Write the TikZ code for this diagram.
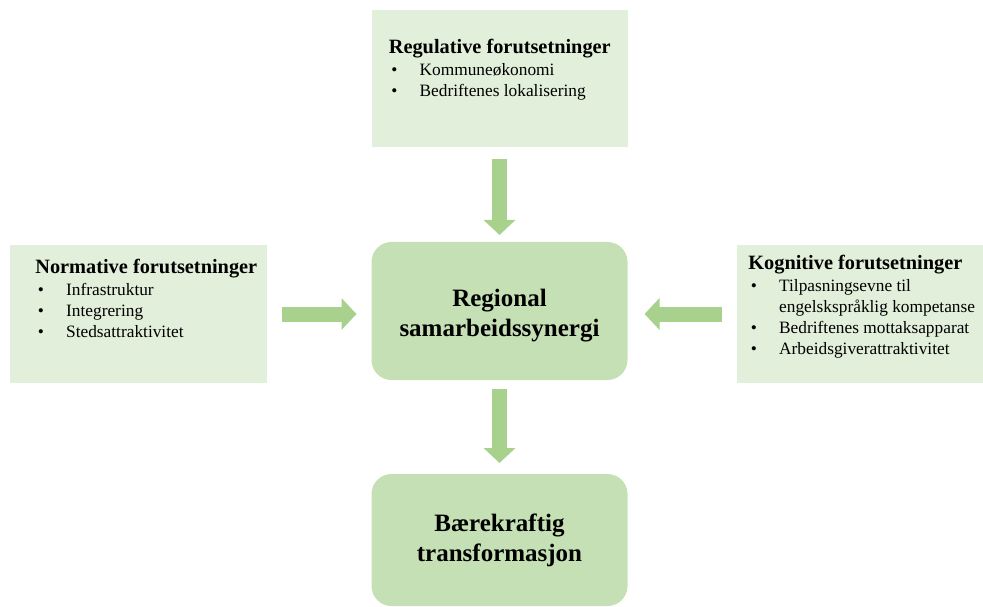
\documentclass[tikz,border=0pt]{standalone}
\usepackage{fontspec}
\setmainfont{Liberation Serif}
\usetikzlibrary{positioning, arrows.meta}
\definecolor{boxlight}{HTML}{E2EFDA}
\definecolor{boxmid}{HTML}{C5E0B4}
\definecolor{arrgreen}{HTML}{A9D18E}
\newcommand{\hd}[1]{{\fontsize{12.2}{12.6}\selectfont\bfseries #1}}
\newcommand{\bul}[1]{\hspace*{1.5pt}\makebox[17pt][l]{\textbullet}#1}

\begin{document}
\begin{tikzpicture}[
  x=0.6pt, y=-0.6pt,
  factor/.style={fill=boxlight, inner sep=0pt, outer sep=0pt, minimum height=82.8pt},
  core/.style={fill=boxmid, rounded corners=12pt, inner sep=0pt, outer sep=0pt, minimum width=153.6pt, minimum height=82.8pt, align=center, font=\fontsize{15}{18}\selectfont\bfseries},
  itemtext/.style={inner sep=0pt, align=left, font=\fontsize{10.4}{12.6}\selectfont},
  blockarr/.style={-{Triangle[width=18.6pt, length=9pt]}, line width=9pt, draw=arrgreen}
]
\useasboundingbox (0,0) rectangle (983,607);

\node[core] (synergi) at (499.5,311) {\rule{0pt}{16.5pt}Regional\\samarbeidssynergi};
\node[core, minimum height=79.2pt] (baerekraft) at (499.5,540) {Bærekraftig\\transformasjon};

\node[factor, minimum width=153.6pt, minimum height=82.2pt] (regulativ) at (499.5,78.5) {};
\node[factor, minimum width=154.2pt] (normativ) at (138.5,314) {};
\node[factor, minimum width=147.6pt] (kognitiv) at (860,314) {};

\node[itemtext, below right=17.6pt and 10.2pt of regulativ.north west] (regtxt)
  {\hd{Regulative forutsetninger}\\[0.6pt]
   \bul{Kommuneøkonomi}\\
   \bul{Bedriftenes lokalisering}};
\node[itemtext, below right=8.4pt and 15pt of normativ.north west] (nortxt)
  {\hd{Normative forutsetninger}\\[0.6pt]
   \bul{Infrastruktur}\\
   \bul{Integrering}\\
   \bul{Stedsattraktivitet}};
\node[itemtext, below right=6pt and 6.6pt of kognitiv.north west] (kogtxt)
  {\hd{Kognitive forutsetninger}\\[0.6pt]
   \bul{Tilpasningsevne til}\\
   \hspace*{18.5pt}engelskspråklig kompetanse\\
   \bul{Bedriftenes mottaksapparat}\\
   \bul{Arbeidsgiverattraktivitet}};

\draw[blockarr, shorten <=7.2pt, shorten >=4.2pt] (regulativ) -- (synergi);
\draw[blockarr, shorten <=5.4pt, shorten >=6.6pt] (synergi) -- (baerekraft);
\draw[blockarr, shorten <=9pt, shorten >=9pt] (normativ) -- (normativ -| synergi.west);
\draw[blockarr, shorten <=9pt, shorten >=10.2pt] (kognitiv) -- (kognitiv -| synergi.east);

\end{tikzpicture}
\end{document}
